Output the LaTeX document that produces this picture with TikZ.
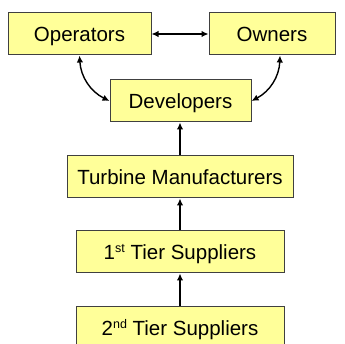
\documentclass[tikz,border=0pt]{standalone}
\usepackage{fontspec}
\setmainfont{Liberation Sans}
\usetikzlibrary{arrows.meta,calc}
\definecolor{boxfill}{HTML}{FFFF99}
\definecolor{boxline}{HTML}{404040}
\newcommand{\supx}[1]{\raisebox{0.62ex}{\fontsize{12.5pt}{12.5pt}\selectfont #1}}
\begin{document}
\begin{tikzpicture}[x=1pt,y=-1pt,
  box/.style={draw=boxline, line width=1pt, fill=boxfill, minimum height=42pt,
    inner sep=0pt, text height=15pt, text depth=0pt,
    font=\fontsize{20.5pt}{24pt}\selectfont, anchor=center},
  link/.style={line width=1.4pt, -{Latex[length=7pt,width=6.5pt]}},
  dlink/.style={line width=1.4pt, {Latex[length=7pt,width=6.5pt]}-{Latex[length=7pt,width=6.5pt]}}]
\useasboundingbox (0,0) rectangle (345,344);
\clip (0,0) rectangle (345,344);
\fill[white] (0,0) rectangle (345,344);
\node[box, minimum width=143pt] (op) at (79.5,34) {Operators};
\node[box, minimum width=126pt] (own) at (272,34) {Owners};
\node[box, minimum width=141pt] (dev) at (180.5,101) {Developers};
\node[box, minimum width=226pt] (tur) at (180,177) {Turbine Manufacturers};
\node[box, minimum width=208pt] (t1) at (180,252) {1\supx{st} Tier Suppliers};
\node[box, minimum width=208pt] (t2) at (180,328) {2\supx{nd} Tier Suppliers};
\draw[dlink] (op.east) -- (own.west);
\draw[dlink] (op.south) to[bend right=30] (dev.west);
\draw[dlink] ($(own.south)+(8,0)$) to[bend left=30] (dev.east);
\draw[link] (tur.north) -- (tur.north |- dev.south);
\draw[link] (t1.north) -- (tur.south);
\draw[link] (t2.north) -- (t1.south);
\end{tikzpicture}
\end{document}
